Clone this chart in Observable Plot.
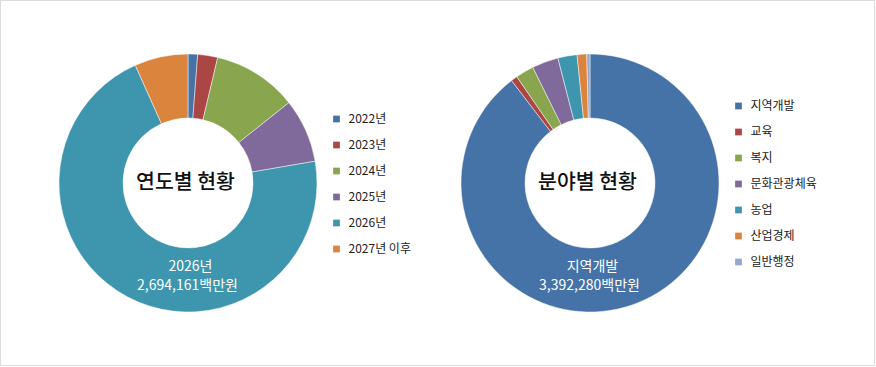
<!DOCTYPE html>
<html><head><meta charset="utf-8">
<script src="https://cdn.jsdelivr.net/npm/d3@7"></script>
<script src="https://cdn.jsdelivr.net/npm/@observablehq/plot@0.6"></script>
<style>
html,body{margin:0;padding:0;background:#fff;}
#wrap{position:relative;width:876px;height:367px;}
#border{position:absolute;left:0;top:0;width:875px;height:366px;box-sizing:border-box;border:1px solid #dcdcdc;pointer-events:none;}
svg{display:block;font-family:"Noto Sans CJK KR","Noto Sans",sans-serif;}
</style></head>
<body><div id="wrap"><div id="border"></div></div>
<script>
// ---- data ----
const years = ["2022년", "2023년", "2024년", "2025년", "2026년", "2027년 이후"];
const yearValues = [45500, 95000, 402000, 303600, 2694161, 254000];
const fields = ["지역개발", "교육", "복지", "문화관광체육", "농업", "산업경제", "일반행정"];
const fieldValues = [3392280, 30300, 87000, 125000, 91000, 45400, 15100];
const yearColors = ["#4572A7", "#AA4643", "#89A54E", "#80699B", "#3D96AE", "#DB843D"];
const fieldColors = ["#4572A7", "#AA4643", "#89A54E", "#80699B", "#3D96AE", "#DB843D", "#92A8CD"];
const titles = ["연도별 현황", "분야별 현황"];
const highlightLabels = [["2026년", "2,694,161백만원"], ["지역개발", "3,392,280백만원"]];

// ---- layout ----
const W = 876, H = 367;
const charts = [
  {cats: years, vals: yearValues, cx: 188, cy: 183, lx: 336, title: titles[0], label: highlightLabels[0]},
  {cats: fields, vals: fieldValues, cx: 590, cy: 183, lx: 738, title: titles[1], label: highlightLabels[1]}
];
const R = 129, r0 = 65, rowH = 26;

const legendRows = charts.flatMap(c => c.cats.map((k, i) => ({
  key: k, x: c.lx, y: c.cy + 0.5 + (i - (c.cats.length - 1) / 2) * rowH
})));

function donuts(index, scales) {
  const g = d3.create("svg:g");
  const arc = d3.arc().innerRadius(r0).outerRadius(R);
  for (const c of charts) {
    const rows = c.cats.map((k, i) => ({key: k, value: c.vals[i]}));
    const arcs = d3.pie().sort(null).value(d => d.value)(rows);
    g.append("g")
      .attr("transform", `translate(${scales.x(c.cx)},${scales.y(c.cy)})`)
      .selectAll("path").data(arcs).join("path")
      .attr("d", arc)
      .attr("fill", d => scales.color(d.data.key))
      .attr("stroke", "#fff").attr("stroke-width", 0.6).attr("stroke-opacity", 0.8);
  }
  return g.node();
}

const chart = Plot.plot({
  width: W, height: H,
  margin: 0,
  x: {domain: [0, W], range: [0, W], axis: null},
  y: {domain: [0, H], range: [0, H], axis: null},
  color: {domain: [...years, ...fields], range: [...yearColors, ...fieldColors]},
  style: {fontFamily: '"Noto Sans CJK KR","Noto Sans",sans-serif', background: "transparent"},
  marks: [
    donuts,
    Plot.text(charts, {x: d => d.cx - 3, y: d => d.cy - 1, text: d => d.title, fontSize: 20.5, fontWeight: 500, fill: "#111"}),
    Plot.text(charts, {x: d => d.cx + 2, y: d => d.cy + 83, text: d => d.label[0], fontSize: 14, fill: "#fff"}),
    Plot.text(charts, {x: d => d.cx - 1, y: d => d.cy + 102, text: d => d.label[1], fontSize: 14, fill: "#fff"}),
    Plot.dot(legendRows, {x: "x", y: "y", symbol: "square", r: 3.8, fill: "key", stroke: null}),
    Plot.text(legendRows, {x: d => d.x + 12, y: "y", text: "key", textAnchor: "start", fontSize: 12, fill: "#222"})
  ]
});
document.getElementById("wrap").prepend(chart);
chart.style.position = "absolute"; chart.style.left = "0"; chart.style.top = "0";
</script>
</body></html>
